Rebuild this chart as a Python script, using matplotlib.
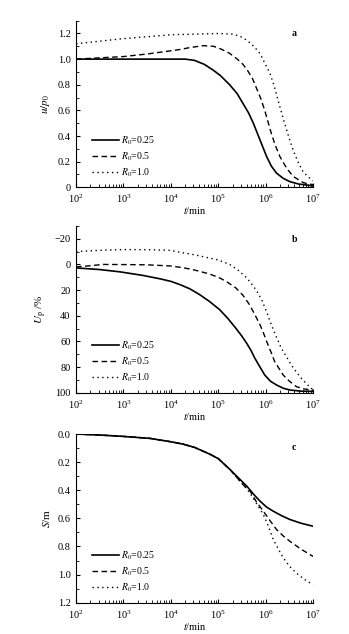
import numpy as np
import matplotlib
matplotlib.use("Agg")
import matplotlib.pyplot as plt
from matplotlib.ticker import MultipleLocator, LogLocator, FixedLocator, FuncFormatter

plt.rcParams['font.family'] = ['Liberation Serif', 'DejaVu Serif']
plt.rcParams['mathtext.fontset'] = 'stix'

# log10(t) and values
# panel a: u/p0
a_t1 = [2, 3, 4, 4.3, 4.5, 4.7, 4.89, 5.05, 5.24, 5.4, 5.52, 5.64, 5.74, 5.88, 6.02, 6.12, 6.23, 6.37, 6.51, 6.7, 6.86, 7]
a_y1 = [1.0, 1.0, 1.0, 1.0, 0.99, 0.96, 0.915, 0.87, 0.80, 0.73, 0.655, 0.58, 0.50, 0.37, 0.24, 0.165, 0.11, 0.07, 0.044, 0.025, 0.018, 0.01]
a_t2 = [2, 2.5, 3, 3.5, 4, 4.19, 4.4, 4.68, 4.9, 5.05, 5.24, 5.4, 5.52, 5.62, 5.72, 5.81, 5.9, 5.98, 6.05, 6.12, 6.2, 6.3, 6.44, 6.58, 6.8, 7]
a_y2 = [1.0, 1.01, 1.02, 1.04, 1.065, 1.075, 1.09, 1.105, 1.10, 1.08, 1.045, 1.0, 0.96, 0.91, 0.85, 0.77, 0.69, 0.60, 0.51, 0.42, 0.33, 0.24, 0.15, 0.085, 0.035, 0.02]
a_t3 = [2, 2.5, 3, 3.5, 4, 4.5, 5, 5.3, 5.45, 5.6, 5.75, 5.88, 5.98, 6.09, 6.18, 6.26, 6.33, 6.40, 6.49, 6.58, 6.68, 6.79, 6.9, 7]
a_y3 = [1.12, 1.14, 1.16, 1.175, 1.19, 1.195, 1.2, 1.195, 1.18, 1.148, 1.10, 1.044, 0.97, 0.89, 0.79, 0.68, 0.59, 0.50, 0.39, 0.29, 0.20, 0.12, 0.08, 0.05]

# panel b: Up / %
b_t1 = [2, 2.5, 2.93, 3.4, 3.77, 4, 4.19, 4.4, 4.61, 4.82, 5.03, 5.2, 5.37, 5.5, 5.6, 5.69, 5.77, 5.88, 5.98, 6.1, 6.23, 6.37, 6.51, 6.75, 7]
b_y1 = [2.7, 4, 5.8, 8.5, 11.2, 13.2, 15.7, 19, 23.6, 29, 35.3, 42, 49.7, 56, 61.5, 67, 73, 80, 86.2, 91, 94, 96.5, 97.9, 98.8, 99]
b_t2 = [2, 2.3, 2.57, 3, 3.5, 4, 4.19, 4.4, 4.61, 4.82, 5.03, 5.2, 5.37, 5.52, 5.66, 5.77, 5.88, 5.97, 6.05, 6.12, 6.19, 6.28, 6.37, 6.5, 6.65, 6.8, 7]
b_y2 = [1.9, 1.0, 0.0, 0.1, 0.3, 1.2, 2.2, 3.5, 5.4, 7.5, 10.5, 14, 18.3, 24, 31.4, 39, 47, 55, 62.7, 69, 75.7, 81, 86.2, 91, 95.3, 97, 98]
b_t3 = [2, 2.5, 3, 3.5, 4, 4.19, 4.5, 4.75, 5, 5.24, 5.42, 5.6, 5.7, 5.8, 5.91, 6.01, 6.12, 6.22, 6.33, 6.44, 6.54, 6.65, 6.75, 6.86, 6.96, 7]
b_y3 = [-10, -11, -11.6, -11.5, -11, -9.5, -7.5, -5.5, -3.5, 0, 4.5, 10.5, 15, 20, 27, 36, 47, 56, 65.3, 72, 78.3, 84, 88.7, 93, 96.6, 97.5]

# panel c: S / m
c_t1 = [2, 2.5, 3, 3.56, 4, 4.26, 4.5, 4.82, 5, 5.24, 5.42, 5.6, 5.75, 5.88, 6.02, 6.16, 6.33, 6.51, 6.75, 7]
c_y1 = [0.0, 0.007, 0.017, 0.031, 0.055, 0.072, 0.095, 0.143, 0.175, 0.25, 0.31, 0.37, 0.43, 0.477, 0.52, 0.549, 0.58, 0.608, 0.635, 0.656]
c_t2 = [2, 2.5, 3, 3.56, 4, 4.26, 4.5, 4.82, 5, 5.24, 5.42, 5.55, 5.67, 5.8, 5.95, 6.1, 6.23, 6.37, 6.51, 6.75, 7]
c_y2 = [0.0, 0.007, 0.017, 0.031, 0.055, 0.072, 0.095, 0.143, 0.175, 0.25, 0.32, 0.37, 0.405, 0.48, 0.549, 0.62, 0.68, 0.725, 0.763, 0.82, 0.871]
c_t3 = [2, 2.5, 3, 3.56, 4, 4.26, 4.5, 4.82, 5, 5.24, 5.42, 5.55, 5.67, 5.8, 5.95, 6.05, 6.16, 6.27, 6.37, 6.5, 6.65, 6.8, 7]
c_y3 = [0.0, 0.007, 0.017, 0.031, 0.055, 0.072, 0.095, 0.143, 0.175, 0.25, 0.32, 0.37, 0.42, 0.49, 0.572, 0.65, 0.75, 0.82, 0.88, 0.94, 0.99, 1.03, 1.073]

labels = ['$R_0$=0.25', '$R_0$=0.5', '$R_0$=1.0']
styles = [dict(ls='-', lw=1.2), dict(ls=(0, (4, 2.5)), lw=1.0), dict(ls=(0, (1, 2.5)), lw=1.0)]

fig = plt.figure(figsize=(3.49, 6.34), dpi=100)
axa = fig.add_axes([0.218, 0.7046, 0.679, 0.2628])
axb = fig.add_axes([0.218, 0.3806, 0.679, 0.263])
axc = fig.add_axes([0.218, 0.0494, 0.679, 0.266])

fs = 7.5

def style(ax, letter, ylabel):
    ax.set_xscale('log')
    ax.set_xlim(1e2, 1e7)
    ax.spines['top'].set_visible(False)
    ax.spines['right'].set_visible(False)
    ax.tick_params(which='both', direction='in', labelsize=fs)
    ax.tick_params(axis='x', pad=4)
    ax.tick_params(axis='y', pad=4)
    ax.tick_params(which='major', length=3)
    ax.tick_params(which='minor', length=2)
    ax.xaxis.set_major_locator(LogLocator(base=10, numticks=10))
    ax.xaxis.set_minor_locator(LogLocator(base=10, subs=np.arange(2, 10), numticks=10))
    ax.set_xlabel('$t$/min', fontsize=fs, labelpad=0)
    ax.set_ylabel(ylabel, fontsize=8, labelpad=4)
    ax.text(0.92, 0.92, letter, transform=ax.transAxes, fontsize=7, fontweight='bold',
            ha='center', va='center')
    ax.legend(loc='lower left', bbox_to_anchor=(0.03, 0.0), frameon=False, fontsize=7,
              handlelength=2.8, handletextpad=0.2, labelspacing=0.35)

def draw(ax, series):
    for (t, y), lab, st in zip(series, labels, styles):
        ax.plot(10 ** np.array(t), y, color='black', label=lab, **st)

draw(axa, [(a_t1, a_y1), (a_t2, a_y2), (a_t3, a_y3)])
axa.set_ylim(0, 1.3)
axa.yaxis.set_major_locator(FixedLocator([0, 0.2, 0.4, 0.6, 0.8, 1.0, 1.2]))
axa.yaxis.set_minor_locator(MultipleLocator(0.1))
axa.yaxis.set_major_formatter(FuncFormatter(lambda v, p: '0' if abs(v) < 1e-9 else '%.1f' % v))
style(axa, 'a', '$u/p_0$')

draw(axb, [(b_t1, b_y1), (b_t2, b_y2), (b_t3, b_y3)])
axb.set_ylim(100, -30)
axb.yaxis.set_major_locator(FixedLocator([-20, 0, 20, 40, 60, 80, 100]))
axb.yaxis.set_minor_locator(MultipleLocator(10))
axb.yaxis.set_major_formatter(FuncFormatter(lambda v, p: '\u2212%d' % -v if v < 0 else '%d' % v))
style(axb, 'b', '$U_\\mathrm{p}$ /%')

draw(axc, [(c_t1, c_y1), (c_t2, c_y2), (c_t3, c_y3)])
axc.set_ylim(1.2, 0)
axc.yaxis.set_major_locator(FixedLocator([0, 0.2, 0.4, 0.6, 0.8, 1.0, 1.2]))
axc.yaxis.set_minor_locator(MultipleLocator(0.1))
axc.yaxis.set_major_formatter(FuncFormatter(lambda v, p: '%.1f' % v))
style(axc, 'c', '$S$/m')

fig.savefig('out.png', dpi=100)
